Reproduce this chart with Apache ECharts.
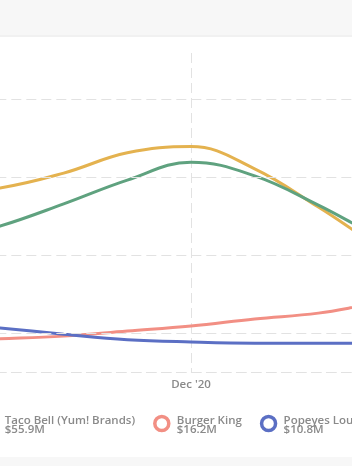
<!DOCTYPE html>
<html>
<head>
<meta charset="utf-8">
<script src="https://cdn.jsdelivr.net/npm/echarts@6/dist/echarts.min.js"></script>
<style>
  html, body { margin: 0; padding: 0; background: #fff; }
  #chart { width: 352px; height: 466px; }
</style>
</head>
<body>
<div id="chart"></div>
<script>
// monthly points, the window shows Sep '20 .. late Feb '21
const months = ["Aug '20", "Sep '20", "Oct '20", "Nov '20", "Dec '20", "Jan '21", "Feb '21", "Mar '21", "Apr '21"];
const goldVals = [45.9, 47.2, 51.0, 56.2, 57.8, 52.1, 42.3, 31.8, 23.6];
const tacoBellVals = [33.1, 37.4, 43.1, 49.2, 53.8, 50.3, 42.8, 34.4, 28.2];
const burgerKingVals = [7.9, 8.5, 9.2, 10.5, 11.8, 13.6, 15.1, 17.7, 18.7];
const popeyesVals = [12.8, 11.3, 9.7, 8.3, 7.7, 7.4, 7.4, 7.4, 7.4];
const gridValues = [10, 30, 50, 70];
const labelledMonth = "Dec '20";

const legendNames = ['Taco Bell (Yum! Brands)', 'Burger King', 'Popeyes Louisiana Kitchen'];
const legendTotals = ['$55.9M', '$16.2M', '$10.8M'];

const colors = {
  gold: '#e4b24f',
  green: '#5fa27f',
  red: '#f28f84',
  blue: '#5b6fc4'
};

const chart = echarts.init(document.getElementById('chart'));

function lineSeries(name, data, color) {
  return {
    name: name,
    type: 'line',
    data: data,
    smooth: 0.4,
    symbol: 'none',
    z: 3,
    lineStyle: { color: color, width: 3 },
    itemStyle: { color: color }
  };
}

const step = 191 / 3;
const isLabelled = (idx) => months[idx] === labelledMonth;
const textFont = { color: '#8a8a8a', fontSize: 11.5, fontFamily: 'Open Sans', fontWeight: 600 };

const option = {
  animation: false,
  grid: { left: -step, right: 352 - 191 - 4 * step, top: 53, bottom: 94, outerBoundsMode: 'none', containLabel: false },
  graphic: [
    { type: 'rect', left: 0, top: 0, shape: { width: 352, height: 35 }, style: { fill: '#f7f7f7' }, z: -1 },
    { type: 'rect', left: 0, top: 35, shape: { width: 352, height: 2 }, style: { fill: '#f1f1f1' }, z: -1 },
    { type: 'rect', left: 0, top: 457, shape: { width: 352, height: 9 }, style: { fill: '#f7f7f7' }, z: -1 }
  ],
  legend: {
    left: -24,
    top: 402,
    width: 700,
    icon: 'circle',
    itemWidth: 14,
    itemHeight: 14,
    itemGap: 18,
    selectedMode: false,
    data: [
      { name: legendNames[0], itemStyle: { color: '#fff', borderColor: colors.green, borderWidth: 3.5 } },
      { name: legendNames[1], itemStyle: { color: '#fff', borderColor: colors.red, borderWidth: 3.5 } },
      { name: legendNames[2], itemStyle: { color: '#fff', borderColor: colors.blue, borderWidth: 3.5 } }
    ],
    formatter: function (name) {
      const i = legendNames.indexOf(name);
      return '{n|' + name + '}\n{v|' + legendTotals[i] + '}';
    },
    textStyle: {
      rich: {
        n: Object.assign({ lineHeight: 13, padding: [8, 0, 0, 3] }, textFont),
        v: Object.assign({ lineHeight: 13, padding: [0, 0, 0, 3] }, textFont)
      }
    }
  },
  xAxis: {
    type: 'category',
    boundaryGap: false,
    data: months,
    axisLine: { show: true, lineStyle: { color: '#e2e2e2', type: [10, 5], width: 1 } },
    axisTick: { show: false },
    axisLabel: Object.assign({ interval: isLabelled, margin: 7 }, textFont),
    splitLine: {
      show: true,
      interval: isLabelled,
      lineStyle: { color: '#e2e2e2', type: [10, 5], width: 1 }
    }
  },
  yAxis: {
    type: 'value',
    min: 0,
    max: 81.8,
    show: false,
    splitLine: { show: false }
  },
  series: [
    {
      name: 'grid',
      type: 'line',
      data: [],
      z: 1,
      silent: true,
      markLine: {
        silent: true,
        symbol: 'none',
        label: { show: false },
        lineStyle: { color: '#e2e2e2', type: [10, 5], width: 1 },
        data: gridValues.map(v => ({ yAxis: v }))
      }
    },
    lineSeries('McDonald\'s', goldVals, colors.gold),
    lineSeries(legendNames[0], tacoBellVals, colors.green),
    lineSeries(legendNames[1], burgerKingVals, colors.red),
    lineSeries(legendNames[2], popeyesVals, colors.blue)
  ]
};

chart.setOption(option);
</script>
</body>
</html>
